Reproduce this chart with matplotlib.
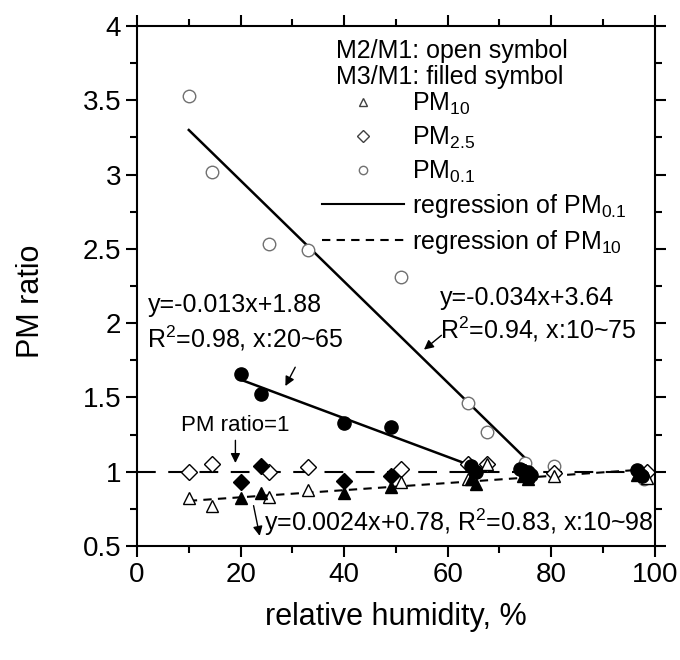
import matplotlib
matplotlib.use("Agg")
import matplotlib.pyplot as plt
from matplotlib.lines import Line2D
from matplotlib.ticker import MultipleLocator, FormatStrFormatter

plt.rcParams['font.family'] = ['Liberation Sans', 'DejaVu Sans']
plt.rcParams['mathtext.fontset'] = 'custom'
plt.rcParams['mathtext.rm'] = 'Liberation Sans'

# M2/M1 (open symbols)
rh_open = [10, 14.5, 25.5, 33, 51, 64, 67.5, 75, 80.5, 98]
pm01_open = [3.53, 3.02, 2.53, 2.49, 2.31, 1.46, 1.27, 1.06, 1.04, 0.95]
rh_open_tri = [10, 14.5, 25.5, 33, 51, 64, 67.5, 75.5, 80.5, 98.5]
pm10_open = [0.82, 0.77, 0.83, 0.88, 0.93, 0.95, 1.05, 0.97, 0.97, 0.96]
rh_open_dia = [10, 14.5, 25.5, 33, 51, 64, 67.5, 75, 80.5, 98.5]
pm25_open = [0.995, 1.05, 1.0, 1.03, 1.02, 1.05, 1.05, 1.0, 0.99, 1.0]

# M3/M1 (filled symbols)
rh_fill = [20, 24, 40, 49, 64.5, 65.5, 74, 75, 75.5, 76, 96.5, 97.5]
pm01_fill = [1.66, 1.52, 1.33, 1.30, 1.04, 1.0, 1.02, 0.99, 1.0, 0.98, 1.01, 0.97]
rh_fill_tri = [20, 24, 40, 49, 64.5, 65.5, 74.5, 75.5, 96.5]
pm10_fill = [0.82, 0.86, 0.86, 0.90, 0.95, 0.92, 0.97, 0.95, 0.98]
rh_fill_dia = [20, 24, 40, 49, 65, 75, 97]
pm25_fill = [0.93, 1.04, 0.94, 0.97, 1.01, 1.0, 1.0]

# regressions: slope, intercept, x range
reg_pm01_open = (-0.034, 3.64, 10, 75)
reg_pm01_fill = (-0.013, 1.88, 20, 65)
reg_pm10 = (0.0024, 0.78, 10, 98)


def reg_line(ax, reg, **kw):
    a, b, x0, x1 = reg
    ax.plot([x0, x1], [a * x0 + b, a * x1 + b], **kw)


def arrow(ax, tip, tail):
    ax.annotate('', xy=tip, xytext=tail,
                arrowprops=dict(arrowstyle='-|>', color='k', lw=1,
                                mutation_scale=14))


fig = plt.figure(figsize=(6.8, 6.6), dpi=100)
ax = fig.add_axes([0.2015, 0.1727, 0.7615, 0.7879])

ax.plot([0, 100], [1, 1], color='k', lw=1.5, dashes=(9, 6))
reg_line(ax, reg_pm01_open, color='k', lw=1.8)
reg_line(ax, reg_pm01_fill, color='k', lw=1.8)
reg_line(ax, reg_pm10, color='k', lw=1.5, dashes=(4, 3))

ax.plot(rh_open, pm01_open, 'o', ms=9, mfc='white', mec='#707070', mew=1.0, ls='none')
ax.plot(rh_open_dia, pm25_open, 'D', ms=8, mfc='white', mec='k', mew=1.0, ls='none')
ax.plot(rh_open_tri, pm10_open, '^', ms=9, mfc='white', mec='k', mew=1.0, ls='none')
ax.plot(rh_fill, pm01_fill, 'o', ms=9.5, color='k', ls='none')
ax.plot(rh_fill_dia, pm25_fill, 'D', ms=8, color='k', ls='none')
ax.plot(rh_fill_tri, pm10_fill, '^', ms=9, color='k', ls='none')

ax.set_xlim(0, 100)
ax.set_ylim(0.5, 4)
ax.xaxis.set_major_locator(MultipleLocator(20))
ax.xaxis.set_minor_locator(MultipleLocator(10))
ax.yaxis.set_major_locator(MultipleLocator(0.5))
ax.yaxis.set_minor_locator(MultipleLocator(0.25))
ax.yaxis.set_major_formatter(FormatStrFormatter('%g'))
ax.tick_params(which='both', direction='out', top=True, right=True, width=1.5)
ax.tick_params(which='major', length=8, labelsize=20)
ax.tick_params(which='minor', length=5)
ax.tick_params(labeltop=False, labelright=False)
for s in ax.spines.values():
    s.set_linewidth(1.5)
ax.set_xlabel('relative humidity, %', fontsize=22, labelpad=10)
ax.set_ylabel('PM ratio', fontsize=22)
ax.yaxis.set_label_coords(-0.175, 0.47)

# annotations
ax.text(2, 2.12, 'y=-0.013x+1.88', fontsize=18, va='center')
ax.text(2, 1.90, 'R$^2$=0.98, x:20~65', fontsize=18, va='center')
arrow(ax, (28.4, 1.56), (30.8, 1.72))
ax.text(58.5, 2.17, 'y=-0.034x+3.64', fontsize=18, va='center')
ax.text(58.5, 1.96, 'R$^2$=0.94, x:10~75', fontsize=18, va='center')
arrow(ax, (55.0, 1.81), (59.2, 1.93))
ax.text(19, 1.31, 'PM ratio=1', fontsize=16, ha='center', va='center')
arrow(ax, (19, 1.04), (19, 1.23))
ax.text(24.5, 0.66, 'y=0.0024x+0.78, R$^2$=0.83, x:10~98', fontsize=18, va='center')
arrow(ax, (23.8, 0.55), (22.4, 0.79))

# legend
ax.text(38.5, 3.83, 'M2/M1: open symbol', fontsize=18, va='center')
ax.text(38.5, 3.66, 'M3/M1: filled symbol', fontsize=18, va='center')
handles = [
    Line2D([], [], marker='^', ls='none', ms=6, mfc='white', mec='#404040'),
    Line2D([], [], marker='D', ls='none', ms=6, mfc='white', mec='#404040'),
    Line2D([], [], marker='o', ls='none', ms=6, mfc='white', mec='#707070'),
    Line2D([], [], color='k', lw=1.5),
    Line2D([], [], color='k', lw=1.5, dashes=(4, 3)),
]
labels = ['PM$_{10}$', 'PM$_{2.5}$', 'PM$_{0.1}$',
          'regression of PM$_{0.1}$', 'regression of PM$_{10}$']
ax.legend(handles, labels, loc='upper left', bbox_to_anchor=(0.357, 0.875),
          frameon=False, fontsize=18, handlelength=3.3, handletextpad=0.3,
          labelspacing=0.3, borderpad=0, borderaxespad=0)

fig.savefig('out.png', dpi=100)
